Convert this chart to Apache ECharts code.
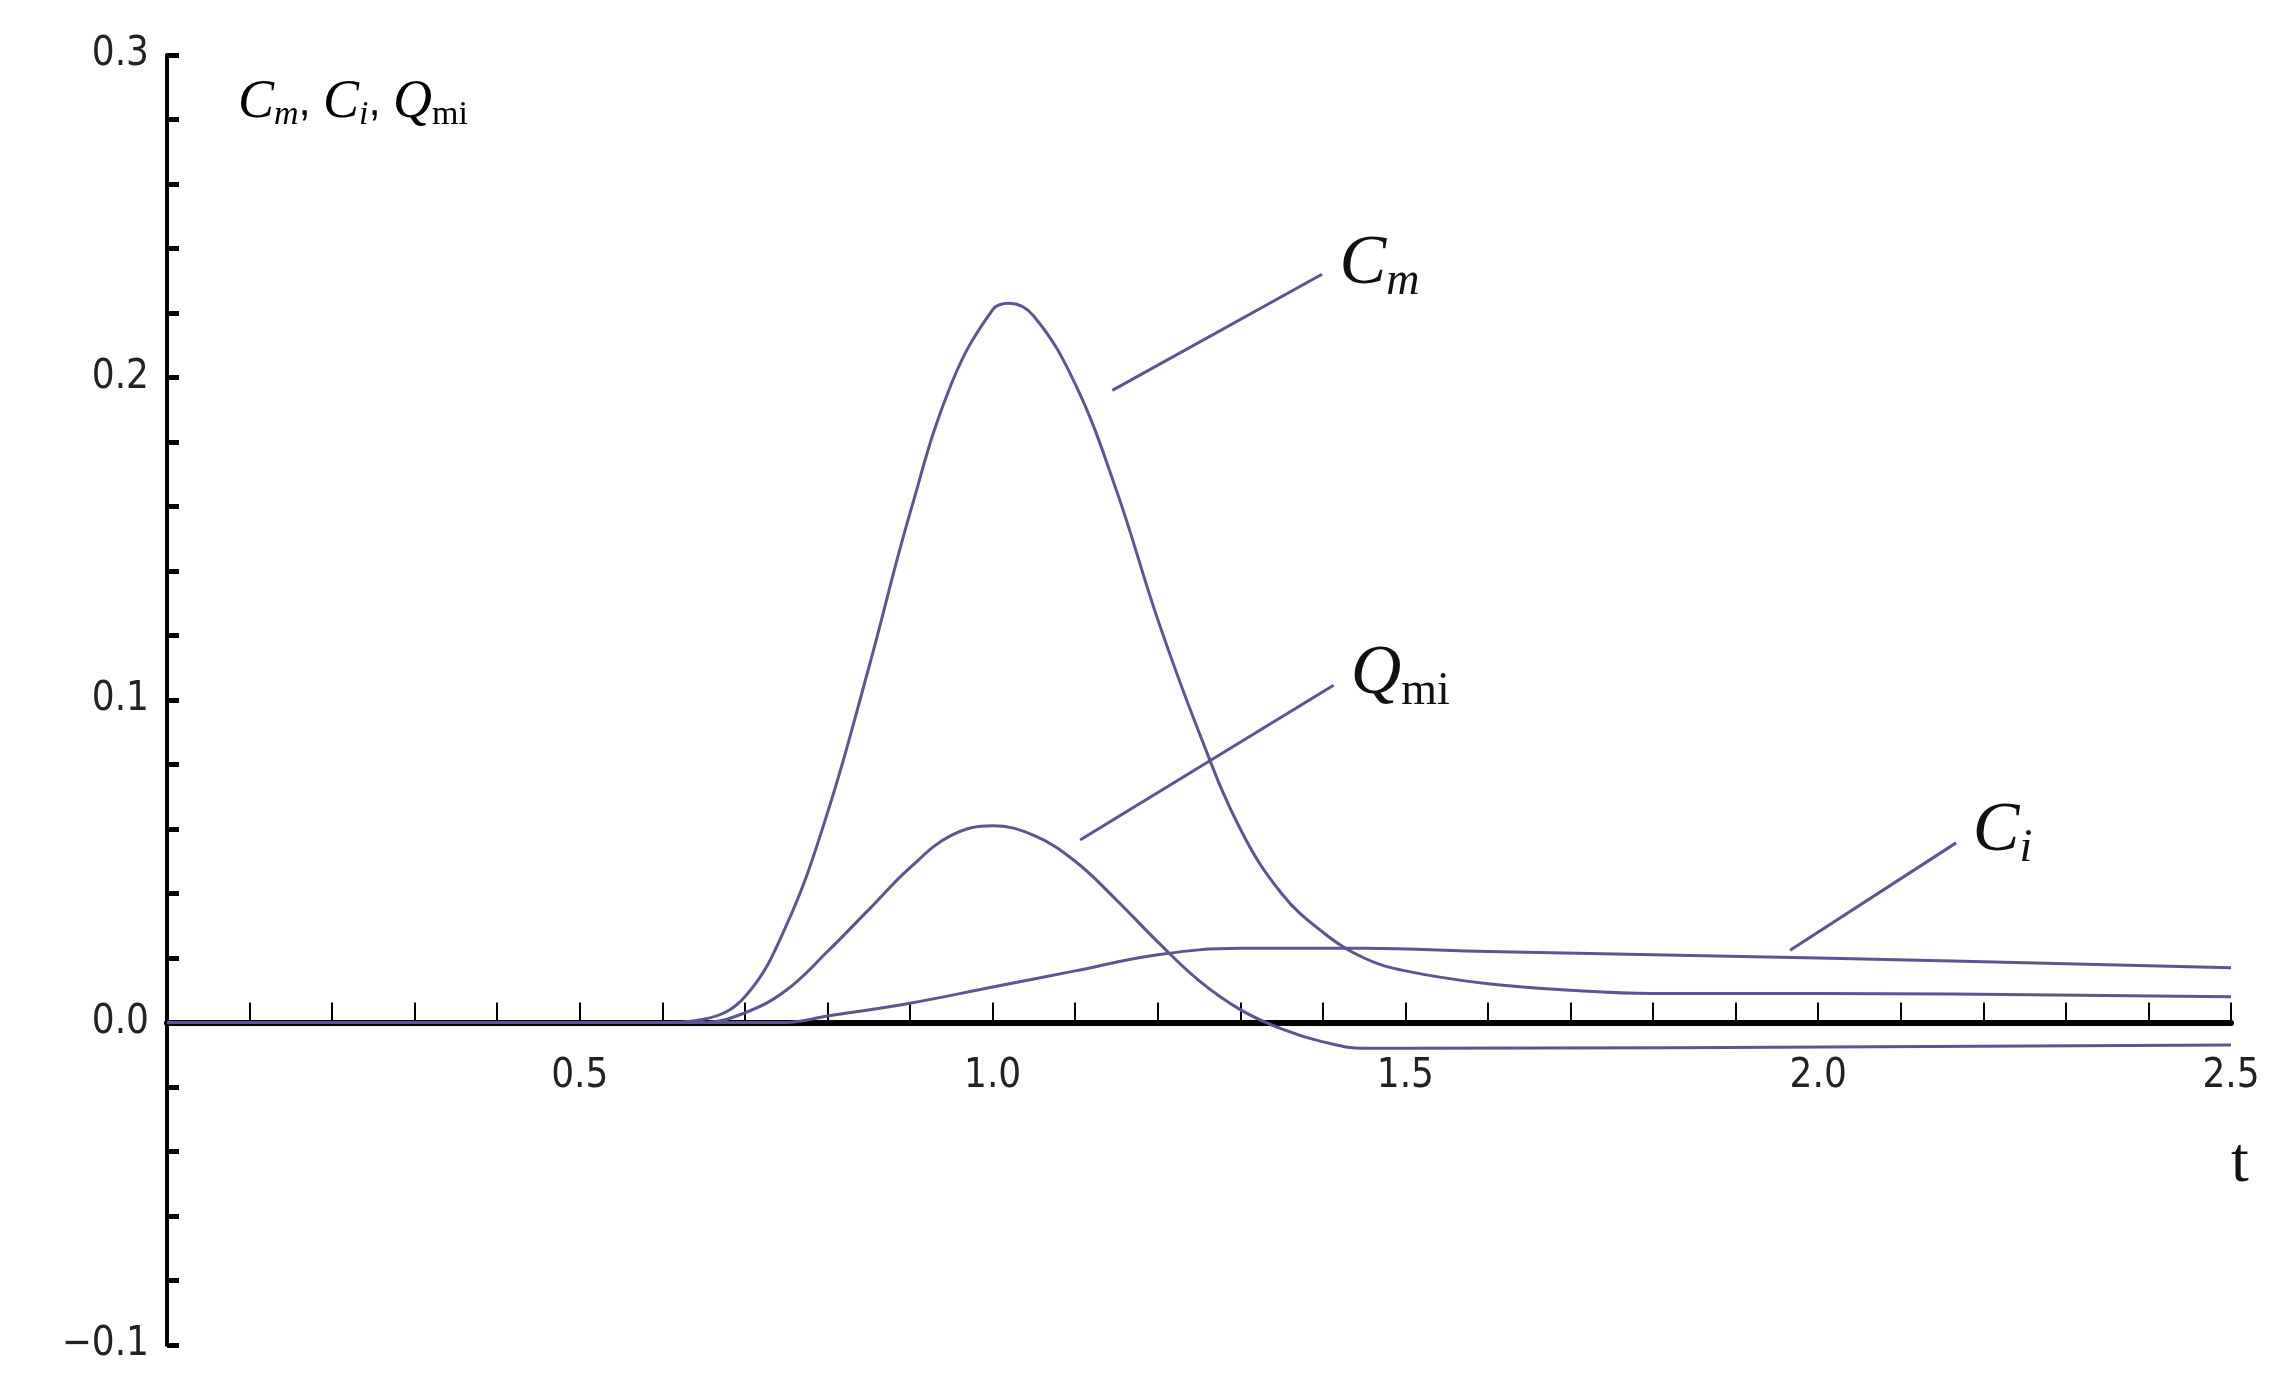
<![CDATA[<!DOCTYPE html><html><head><meta charset="utf-8">
<script src="https://cdn.jsdelivr.net/npm/echarts@6/dist/echarts.min.js"></script>
<style>html,body{margin:0;background:#fff}#c{width:2283px;height:1386px}</style></head><body><div id="c"></div><script>
const tCm=[0,0.6,0.65,0.7,0.75,0.8,0.85,0.9,0.95,1.0,1.02,1.05,1.1,1.15,1.2,1.25,1.3,1.35,1.4,1.45,1.5,1.6,1.7,1.8,2.0,2.5];
const vCm=[0,0,0.001,0.008,0.03,0.065,0.11,0.158,0.198,0.221,0.223,0.219,0.198,0.165,0.125,0.09,0.06,0.04,0.028,0.02,0.016,0.012,0.01,0.009,0.009,0.008];
const tQ=[0,0.65,0.7,0.75,0.8,0.85,0.9,0.95,1.0,1.05,1.1,1.15,1.2,1.25,1.3,1.35,1.4,1.45,1.5,2.5];
const vQ=[0,0,0.003,0.01,0.022,0.035,0.048,0.058,0.061,0.058,0.05,0.038,0.025,0.013,0.004,-0.002,-0.006,-0.008,-0.008,-0.007];
const tCi=[0,0.75,0.8,0.9,1.0,1.1,1.2,1.3,1.45,1.6,2.0,2.5];
const vCi=[0,0,0.002,0.006,0.011,0.016,0.021,0.023,0.023,0.022,0.02,0.017];
const xTicks=[0.5,1.0,1.5,2.0,2.5];
const yTicks=[-0.1,0,0.1,0.2,0.3];
const leaders={Cm:[[1.145,0.196],[1.399,0.232]],Qmi:[[1.106,0.0566],[1.413,0.1046]],Ci:[[1.966,0.0224],[2.167,0.0557]]};
const labels={Cm:'{i|C}{s|m}',Qmi:'{i|Q}{r|mi}',Ci:'{i|C}{s|i}'};
const col='#5b5591';
const rich={i:{fontFamily:'Liberation Serif',fontStyle:'italic',fontSize:70,color:'#111'},s:{fontFamily:'Liberation Serif',fontStyle:'italic',fontSize:46,color:'#111',padding:[34,0,0,0]},r:{fontFamily:'Liberation Serif',fontSize:46,color:'#111',padding:[34,0,0,0]}};
function ser(name,t,v){return {type:'line',name,data:t.map((x,i)=>[x,v[i]]),smooth:0.4,showSymbol:false,lineStyle:{color:col,width:3},
 markLine:{silent:true,symbol:'none',lineStyle:{color:col,width:3,type:'solid'},label:{show:true,position:'end',formatter:labels[name],rich,distance:20},
 data:[[{coord:leaders[name][0]},{coord:leaders[name][1]}]]}};}
const H=1386-55-41;
const ch=echarts.init(document.getElementById('c'));
ch.setOption({animation:false,
grid:{left:167,right:52,top:55,bottom:41},
xAxis:{type:'value',min:0,max:2.5,interval:0.1,offset:-H*0.25,axisLine:{onZero:false,lineStyle:{color:'#000',width:6}},
 axisTick:{inside:true,length:20,lineStyle:{color:'#000',width:2}},splitLine:{show:false},
 axisLabel:{margin:34,fontFamily:'DejaVu Sans Condensed',fontSize:40,color:'#222',formatter:v=>{const f=xTicks.find(t=>Math.abs(t-v)<1e-6);return f!==undefined?f.toFixed(1):'';}},
 name:'t',nameLocation:'end',nameGap:0,nameTextStyle:{fontFamily:'Liberation Serif',fontSize:64,color:'#111',padding:[110,150,0,0],verticalAlign:'top'}},
yAxis:{type:'value',min:-0.1,max:0.3,interval:0.02,axisLine:{show:true,lineStyle:{color:'#000',width:4}},
 axisTick:{inside:true,length:12,lineStyle:{color:'#000',width:5}},splitLine:{show:false},
 axisLabel:{fontFamily:'DejaVu Sans Condensed',fontSize:40,color:'#222',margin:18,formatter:v=>{const f=yTicks.find(t=>Math.abs(t-v)<1e-6);return f!==undefined?(f<0?'\u2212':'')+Math.abs(f).toFixed(1):'';}}},
graphic:[{type:'text',left:238,top:76,style:{text:'{i|C}{s|m}{p|, }{i|C}{s|i}{p|, }{i|Q}{r|mi}',rich:{i:{fontFamily:'Liberation Serif',fontStyle:'italic',fontSize:54,color:'#111'},s:{fontFamily:'Liberation Serif',fontStyle:'italic',fontSize:34,color:'#111',padding:[24,0,0,0]},r:{fontFamily:'Liberation Serif',fontSize:34,color:'#111',padding:[24,0,0,0]},p:{fontSize:44,color:'#111'}}}}],
series:[ser('Cm',tCm,vCm),ser('Qmi',tQ,vQ),ser('Ci',tCi,vCi)]});
</script></body></html>]]>
